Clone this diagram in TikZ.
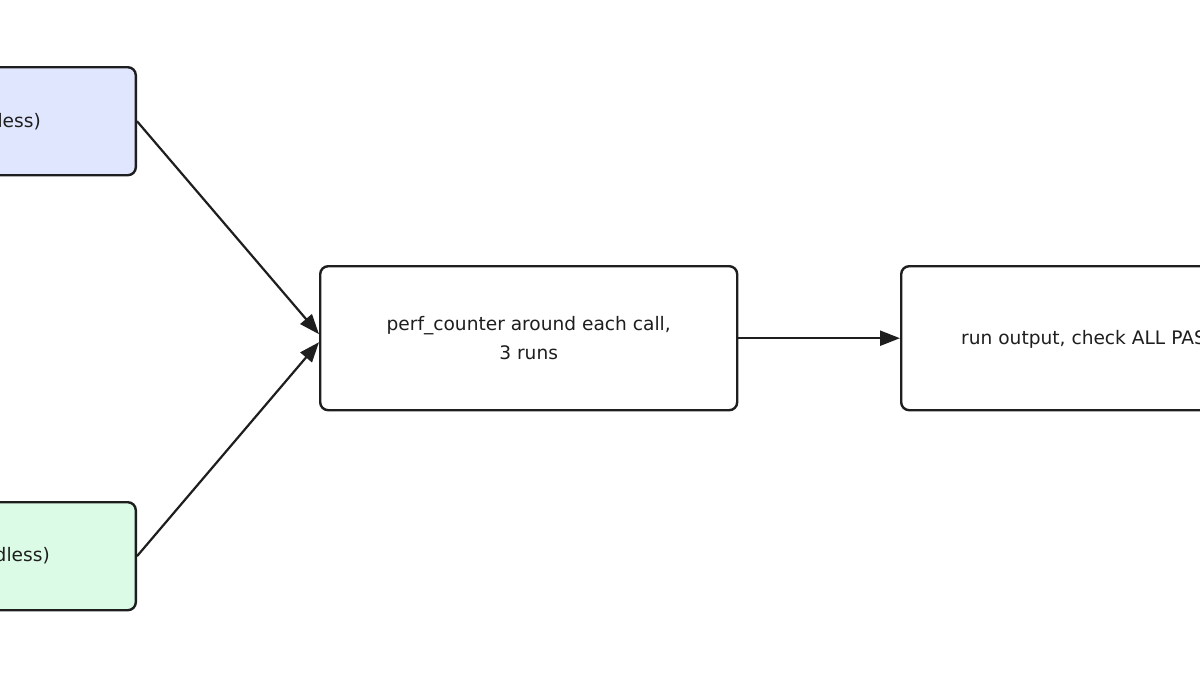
\documentclass[tikz,border=0pt]{standalone}
\usepackage{fontspec}
\setmainfont{DejaVu Sans}
\usetikzlibrary{arrows.meta}
\definecolor{bluefill}{HTML}{E0E6FD}
\definecolor{greenfill}{HTML}{DCFBE6}
\definecolor{edge}{HTML}{1E1E1E}
\tikzset{
  box/.style={draw=edge, line width=2.4pt, rounded corners=8pt, fill=white,
    minimum width=417pt, minimum height=144pt, inner sep=0pt},
  sidebox/.style={box, minimum height=108pt},
  lbl/.style={font=\fontsize{18.6}{29}\selectfont, text=edge, inner sep=0pt, align=center},
  conn/.style={draw=edge, line width=2.2pt, -{Triangle[length=20pt,width=15pt]}}
}
\begin{document}
\begin{tikzpicture}[x=1pt,y=-1pt]
\useasboundingbox (0,0) rectangle (1200,675);
\clip (0,0) rectangle (1200,675);
\node[sidebox, fill=bluefill, anchor=north east] (a) at (137,66) {};
\node[sidebox, fill=greenfill, anchor=north east] (b) at (137,501) {};
\node[box, anchor=north west] (c) at (319,265) {};
\node[box, anchor=north west] (d) at (900,265) {};
\node[lbl, anchor=east] (ta) at (41,122) {less)};
\node[lbl, anchor=east] (tb) at (50,556) {dless)};
\node[lbl] (tc) at (c.center) {perf\_counter around each call,\\3 runs};
\node[lbl, anchor=west] (td) at (961,339) {run output, check ALL PAS};
\draw[conn] (a.east) -- ([yshift=4pt]c.west);
\draw[conn] (b.east) -- ([yshift=-4pt]c.west);
\draw[conn] (c.east) -- (d.west);
\end{tikzpicture}
\end{document}
